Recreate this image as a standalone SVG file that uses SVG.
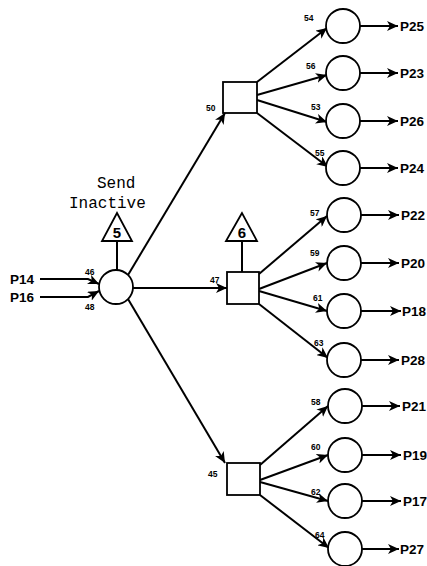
<svg xmlns="http://www.w3.org/2000/svg" width="427" height="566" viewBox="0 0 427 566">
<defs>
<marker id="ah" markerUnits="userSpaceOnUse" markerWidth="12" markerHeight="10" refX="11" refY="5" orient="auto">
<path d="M0,0 L11,5 L0,10 L3,5 z" fill="#000"/>
</marker>
</defs>
<style>
.n{fill:#fff;stroke:#000;stroke-width:1.8}
.c{fill:none;stroke:#000;stroke-width:2;marker-end:url(#ah)}
.l{fill:none;stroke:#000;stroke-width:2}
.p{font-family:"Liberation Sans",Arial,sans-serif;font-weight:bold;font-size:13.5px;fill:#000}
.s{font-family:"Liberation Sans",Arial,sans-serif;font-weight:bold;font-size:8.5px;fill:#000}
.t{font-family:"Liberation Sans",Arial,sans-serif;font-weight:bold;font-size:15px;fill:#000;text-anchor:middle}
.m{font-family:"Liberation Mono","Courier New",monospace;font-size:16px;fill:#000}
</style>
<rect width="427" height="566" fill="#fff"/>
<g id="connectors">
<path class="c" d="M40,279 L88,279 L99,284"/>
<path class="c" d="M40,297 L88,297 L99,291"/>
<path class="l" d="M117,241 L117,270"/>
<path class="l" d="M242,241 L242,272"/>
<path class="c" d="M128,275 L225,113"/>
<path class="c" d="M133,288 L227,288"/>
<path class="c" d="M128,299 L225,463"/>
<path class="c" d="M257,82 L327,28"/>
<path class="c" d="M257,95 L327,75"/>
<path class="c" d="M257,100 L327,122"/>
<path class="c" d="M257,113 L328,167"/>
<path class="c" d="M259,274 L327,216"/>
<path class="c" d="M259,289 L327,263"/>
<path class="c" d="M259,291 L327,311"/>
<path class="c" d="M259,304 L328,358"/>
<path class="c" d="M260,465 L328,406"/>
<path class="c" d="M260,480 L328,455"/>
<path class="c" d="M260,482 L328,501"/>
<path class="c" d="M260,495 L329,548"/>
<path class="c" d="M360,26 L398,26"/>
<path class="c" d="M360,73 L398,73"/>
<path class="c" d="M360,121 L398,121"/>
<path class="c" d="M360,168 L398,168"/>
<path class="c" d="M361,215 L399,215"/>
<path class="c" d="M361,263 L399,263"/>
<path class="c" d="M361,311 L401,311"/>
<path class="c" d="M361,360 L399,360"/>
<path class="c" d="M362,406 L400,406"/>
<path class="c" d="M362,455 L401,455"/>
<path class="c" d="M362,501 L401,501"/>
<path class="c" d="M362,549 L399,549"/>
</g>
<g id="send-label">
<text class="m" x="97" y="188">Send</text>
<text class="m" x="69" y="208">Inactive</text>
</g>
<g id="in-P14"><text class="p" x="10" y="284">P14</text><text class="s" x="85" y="275">46</text></g>
<g id="in-P16"><text class="p" x="10" y="302">P16</text><text class="s" x="85" y="310">48</text></g>
<g id="tri5"><polygon class="n" points="117,213 102,241 132,241"/><text class="t" x="117" y="238">5</text></g>
<g id="tri6"><polygon class="n" points="242,213 226,241 257,241"/><text class="t" x="242" y="238">6</text></g>
<g id="main"><circle class="n" cx="116" cy="287" r="17"/></g>
<g id="sq50"><rect class="n" x="223" y="82" width="34" height="31"/><text class="s" x="206" y="111">50</text></g>
<g id="sq47"><rect class="n" x="227" y="272" width="32" height="32"/><text class="s" x="210" y="283">47</text></g>
<g id="sq45"><rect class="n" x="227" y="463" width="33" height="32"/><text class="s" x="208" y="477">45</text></g>
<g id="c54"><circle class="n" cx="343" cy="26" r="17"/><text class="s" x="304" y="21">54</text><text class="p" x="400" y="31">P25</text></g>
<g id="c56"><circle class="n" cx="343" cy="73" r="17"/><text class="s" x="306" y="69">56</text><text class="p" x="400" y="78">P23</text></g>
<g id="c53"><circle class="n" cx="343" cy="121" r="17"/><text class="s" x="311" y="110">53</text><text class="p" x="400" y="126">P26</text></g>
<g id="c55"><circle class="n" cx="343" cy="168" r="17"/><text class="s" x="315" y="156">55</text><text class="p" x="400" y="173">P24</text></g>
<g id="c57"><circle class="n" cx="344" cy="215" r="17"/><text class="s" x="310" y="216">57</text><text class="p" x="401" y="220">P22</text></g>
<g id="c59"><circle class="n" cx="344" cy="263" r="17"/><text class="s" x="310" y="256">59</text><text class="p" x="401" y="268">P20</text></g>
<g id="c61"><circle class="n" cx="344" cy="311" r="17"/><text class="s" x="313" y="301">61</text><text class="p" x="402" y="316" font-size="13px">P18</text></g>
<g id="c63"><circle class="n" cx="344" cy="360" r="17"/><text class="s" x="314" y="346">63</text><text class="p" x="401" y="365">P28</text></g>
<g id="c58"><circle class="n" cx="345" cy="406" r="17"/><text class="s" x="311" y="405">58</text><text class="p" x="402" y="411">P21</text></g>
<g id="c60"><circle class="n" cx="345" cy="455" r="17"/><text class="s" x="311" y="450">60</text><text class="p" x="403" y="460">P19</text></g>
<g id="c62"><circle class="n" cx="345" cy="501" r="17"/><text class="s" x="311" y="495">62</text><text class="p" x="403" y="506">P17</text></g>
<g id="c64"><circle class="n" cx="345" cy="549" r="17"/><text class="s" x="315" y="538">64</text><text class="p" x="400" y="554">P27</text></g>
</svg>
